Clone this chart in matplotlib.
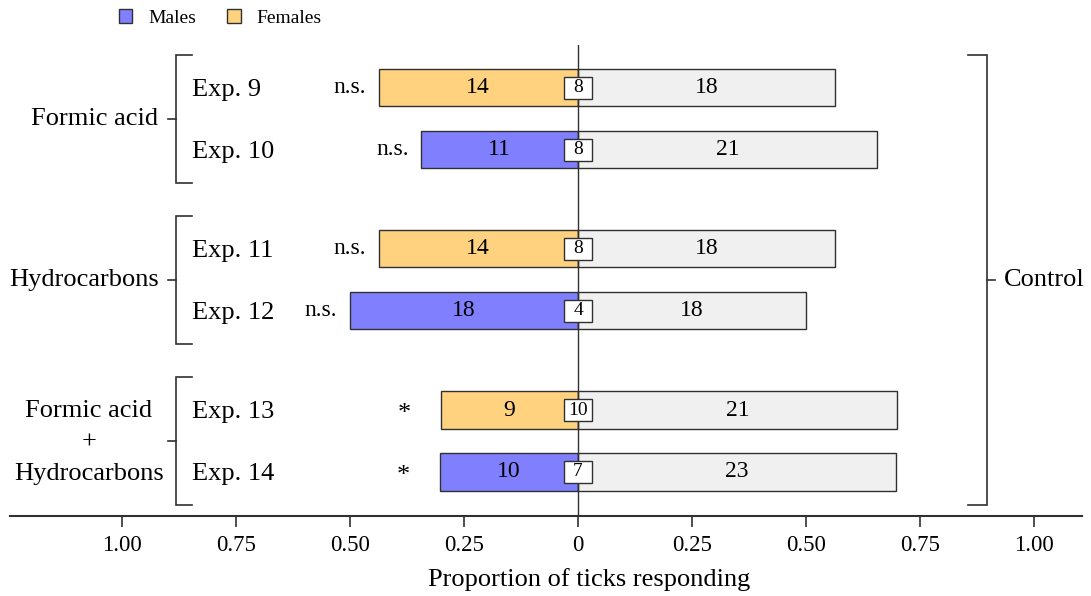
import matplotlib
matplotlib.use('Agg')

import numpy as np
import matplotlib.pyplot as plt
from matplotlib.patches import Patch, Rectangle

plt.rcParams['font.family'] = ['Liberation Serif', 'DejaVu Serif']

# ─── Data ───
experiments = ['Exp. 9', 'Exp. 10', 'Exp. 11', 'Exp. 12', 'Exp. 13', 'Exp. 14']
sex = ['Females', 'Males', 'Females', 'Males', 'Females', 'Males']
n_treatment = [14, 11, 14, 18, 9, 10]
n_control = [18, 21, 18, 18, 21, 23]
n_none = [8, 8, 8, 4, 10, 7]
signif = ['n.s.', 'n.s.', 'n.s.', 'n.s.', '*', '*']
groups = ['Formic acid', 'Hydrocarbons', 'Formic acid\n+\nHydrocarbons']

tick_vals = [-1.0, -0.75, -0.5, -0.25, 0, 0.25, 0.5, 0.75, 1.0]
tick_labels = ['1.00', '0.75', '0.50', '0.25', '0', '0.25', '0.50', '0.75', '1.00']

colors = {'Males': '#8080ff', 'Females': '#ffd280'}
ctrl_color = '#f0f0f0'
edge = '#303030'

n_t = np.array(n_treatment)
n_c = np.array(n_control)
p_t = n_t / (n_t + n_c)
p_c = n_c / (n_t + n_c)

# two bars per group, extra gap between groups
ypos = np.array([0, 1, 2.6, 3.6, 5.2, 6.2])
bar_h = 0.6

fig = plt.figure(figsize=(10.91, 5.96), dpi=100)
ax = fig.add_axes([10/1091, 1 - 516/596, 1072/1091, 471/596])

ax.barh(ypos, -p_t, height=bar_h, color=[colors[s] for s in sex],
        edgecolor=edge, linewidth=1.0, zorder=2)
ax.barh(ypos, p_c, height=bar_h, color=ctrl_color,
        edgecolor=edge, linewidth=1.0, zorder=2)
ax.axvline(0, color='#303030', linewidth=1.0, zorder=3)

box_w, box_h = 0.0614, 0.35
for i, y in enumerate(ypos):
    ax.text(-p_t[i] / 2, y, str(n_treatment[i]), ha='center', va='center',
            fontsize=17, zorder=4)
    ax.text(p_c[i] / 2, y, str(n_control[i]), ha='center', va='center',
            fontsize=17, zorder=4)
    # non-responders in a small box on the zero line
    ax.add_patch(Rectangle((-box_w / 2, y - box_h / 2), box_w, box_h,
                           fc='white', ec=edge, lw=1.0, zorder=5))
    ax.text(0, y, str(n_none[i]), ha='center', va='center', fontsize=14, zorder=6)
    if signif[i] == '*':
        ax.text(-p_t[i] - 0.08, y + 0.06, '*', ha='center', va='center', fontsize=19)
    else:
        ax.text(-p_t[i] - 0.028, y, signif[i], ha='right', va='center', fontsize=17)
    ax.text(-0.846, y + 0.03, experiments[i], ha='left', va='center', fontsize=19)

# left brackets for treatment groups
bx, bt, bm = -0.8816, -0.8465, -0.899
for g in range(3):
    y0 = ypos[2*g] - 0.53
    y1 = ypos[2*g + 1] + 0.53
    ym = (ypos[2*g] + ypos[2*g + 1]) / 2
    ax.plot([bt, bx, bx, bt], [y0, y0, y1, y1], color=edge, lw=1.2,
            clip_on=False, solid_joinstyle='miter')
    ax.plot([bm, bx], [ym, ym], color=edge, lw=1.2, clip_on=False)
    if g < 2:
        ax.text(-0.92, ym, groups[g], ha='right', va='center', fontsize=19)
    else:
        ax.text(-1.073, ym + 0.02, groups[g], ha='center', va='center', fontsize=19,
                linespacing=1.55)

# right bracket for the control side
rx, rt, rm = 0.897, 0.855, 0.914
y0, y1 = ypos[0] - 0.53, ypos[-1] + 0.53
ax.plot([rt, rx, rx, rt], [y0, y0, y1, y1], color=edge, lw=1.2,
        clip_on=False, solid_joinstyle='miter')
ax.plot([rx, rm], [(y0 + y1) / 2] * 2, color=edge, lw=1.2, clip_on=False)
ax.text(0.935, (y0 + y1) / 2, 'Control', ha='left', va='center', fontsize=19)

ax.set_xlim(-568/456, 504/456)
ax.set_ylim(6.91, -0.69)
ax.set_xticks(tick_vals)
ax.set_xticklabels(tick_labels, fontsize=16.5)
ax.tick_params(axis='x', direction='out', length=8, width=1.2, color=edge, pad=6)
ax.set_yticks([])
for side in ['left', 'right', 'top']:
    ax.spines[side].set_visible(False)
ax.spines['bottom'].set_linewidth(1.5)
ax.spines['bottom'].set_color(edge)
ax.set_xlabel('Proportion of ticks responding', fontsize=19)
ax.xaxis.set_label_coords(579/1072, -0.11)

handles = [Patch(facecolor=colors['Males'], edgecolor=edge, label='Males'),
           Patch(facecolor=colors['Females'], edgecolor=edge, label='Females')]
fig.legend(handles=handles, loc='center', bbox_to_anchor=(220/1091, 1 - 18/596),
           ncol=2, frameon=False, fontsize=14, handlelength=0.7, handleheight=0.7,
           columnspacing=1.6, handletextpad=0.8)

fig.savefig('out.png', dpi=100)
plt.close(fig)
